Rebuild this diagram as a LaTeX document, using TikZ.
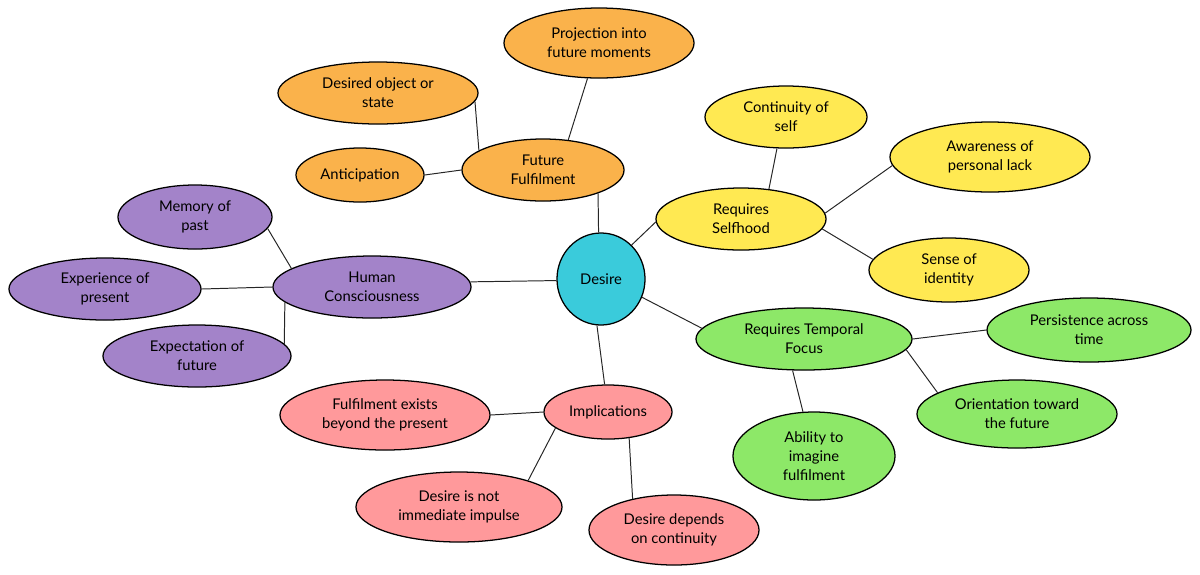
\documentclass[tikz,border=0pt]{standalone}
\usepackage{fontspec}
\setmainfont{Lato}
\usetikzlibrary{shapes.geometric}
\definecolor{desirecol}{RGB}{58,203,219}
\definecolor{futurecol}{RGB}{250,178,75}
\definecolor{selfcol}{RGB}{255,233,82}
\definecolor{mindcol}{RGB}{163,131,201}
\definecolor{timecol}{RGB}{141,232,104}
\definecolor{implcol}{RGB}{255,153,155}
\begin{document}
\begin{tikzpicture}[x=0.025cm,y=-0.025cm,
    bub/.style={draw,ellipse,line width=0.9pt,inner sep=0pt,align=center,font=\fontsize{10.5}{13.5}\selectfont},
    futurebub/.style={bub,fill=futurecol},
    selfbub/.style={bub,fill=selfcol},
    mindbub/.style={bub,fill=mindcol},
    timebub/.style={bub,fill=timecol},
    implbub/.style={bub,fill=implcol},
    link/.style={line width=0.7pt,black!85}]
    \useasboundingbox (0,0) rectangle (1200,574);
    \node[bub,fill=desirecol,minimum width=2.2cm,minimum height=2.3cm] (desire) at (601,279) {Desire};
    \node[futurebub,minimum width=4.05cm,minimum height=1.55cm] (future) at (543,170) {Future\\Fulfilment};
    \node[futurebub,minimum width=4.75cm,minimum height=1.75cm] (projection) at (599,43) {Projection into\\future moments};
    \node[futurebub,minimum width=5cm,minimum height=1.55cm] (object) at (378,93) {Desired object or\\state};
    \node[futurebub,minimum width=3.2cm,minimum height=1.35cm] (anticipation) at (360,175) {Anticipation};
    \node[mindbub,minimum width=4.95cm,minimum height=1.55cm] (conscious) at (372,287) {Human\\Consciousness};
    \node[mindbub,minimum width=3.85cm,minimum height=1.6cm] (memory) at (195,217) {Memory of\\past};
    \node[mindbub,minimum width=4.8cm,minimum height=1.55cm] (experience) at (105,289) {Experience of\\present};
    \node[mindbub,minimum width=4.7cm,minimum height=1.55cm] (expectation) at (197,356) {Expectation of\\future};
    \node[implbub,minimum width=3.2cm,minimum height=1.35cm] (implications) at (608,412) {Implications};
    \node[implbub,minimum width=5.25cm,minimum height=1.75cm] (beyond) at (385,415) {Fulfilment exists\\beyond the present};
    \node[implbub,minimum width=5.15cm,minimum height=1.75cm] (impulse) at (459,507) {Desire is not\\immediate impulse};
    \node[implbub,minimum width=4.25cm,minimum height=1.75cm] (depends) at (674,530) {Desire depends\\on continuity};
    \node[selfbub,minimum width=4.25cm,minimum height=1.55cm] (selfhood) at (741,219) {Requires\\Selfhood};
    \node[selfbub,minimum width=4.05cm,minimum height=1.55cm] (continuity) at (786,117) {Continuity of\\self};
    \node[selfbub,minimum width=5cm,minimum height=1.75cm] (lack) at (990,157) {Awareness of\\personal lack};
    \node[selfbub,minimum width=4cm,minimum height=1.6cm] (identity) at (949,270) {Sense of\\identity};
    \node[timebub,minimum width=5.4cm,minimum height=1.55cm] (temporal) at (804,339) {Requires Temporal\\Focus};
    \node[timebub,minimum width=5.1cm,minimum height=1.6cm] (persistence) at (1089,330) {Persistence across\\time};
    \node[timebub,minimum width=5cm,minimum height=1.7cm] (orientation) at (1017,414) {Orientation toward\\the future};
    \node[timebub,minimum width=4.05cm,minimum height=2.2cm] (imagine) at (814,456) {Ability to\\imagine\\fulfilment};
    \draw[link] (future.-23) -- (desire.93);
    \draw[link] (conscious.3) -- (desire.182);
    \draw[link] (desire.48) -- (selfhood.182);
    \draw[link] (desire.-24) -- (temporal.174);
    \draw[link] (desire.265) -- (implications.97);
    \draw[link] (future.50) -- (projection.252);
    \draw[link] (anticipation.east) -- (future.west);
    \draw[link] (object.-5) -- (future.163);
    \draw[link] (memory.-9) -- (conscious.167);
    \draw[link] (experience.east) -- (conscious.west);
    \draw[link] (conscious.190) -- (expectation.8);
    \draw[link] (beyond.east) -- (implications.west);
    \draw[link] (implications.197) -- (impulse.21);
    \draw[link] (implications.-51) -- (depends.143);
    \draw[link] (selfhood.47) -- (continuity.254);
    \draw[link] (selfhood.4) -- (lack.185);
    \draw[link] (selfhood.-7) -- (identity.172);
    \draw[link] (temporal.east) -- (persistence.west);
    \draw[link] (temporal.-6) -- (orientation.165);
    \draw[link] (temporal.250) -- (imagine.104);
\end{tikzpicture}
\end{document}
